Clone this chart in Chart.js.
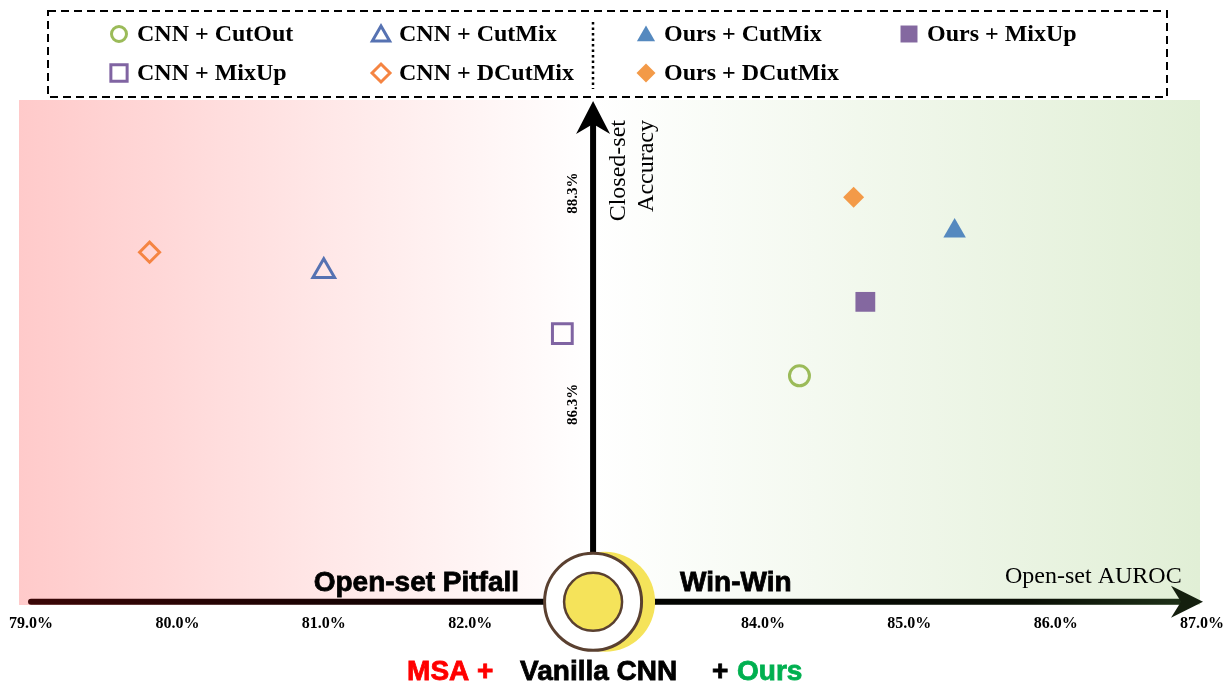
<!DOCTYPE html>
<html>
<head>
<meta charset="utf-8">
<script src="https://cdn.jsdelivr.net/npm/chart.js@4"></script>
<style>
  body { margin: 0; background: #fff; }
  #wrap { width: 1231px; height: 694px; }
</style>
</head>
<body>
<div id="wrap"><canvas id="myChart" width="1231" height="694"></canvas></div>
<script>
// data
const methods = ['CNN + CutOut', 'CNN + CutMix', 'Ours + CutMix', 'Ours + MixUp',
                 'CNN + MixUp', 'CNN + DCutMix', 'Ours + DCutMix'];
const openSetAuroc = [84.25, 81.00, 85.31, 84.70, 82.63, 79.81, 84.62];   // x, %
const closedSetAcc = [86.57, 87.56, 87.94, 87.27, 86.97, 87.74, 88.26];   // y, %
const vanillaAuroc = 82.84;
const vanillaAcc = 84.43;
const xTicks = [79, 80, 81, 82, 83, 84, 85, 86, 87];
const yTicks = [86.3, 88.3];

// marker styles
const markerShapes = ['circle', 'triangle', 'triangle', 'rect', 'rect', 'rectRot', 'rectRot'];
const markerColors = ['#9bbb59', '#5672b2', '#5589bf', '#8468a0', '#8064a2', '#f58442', '#f39a48'];
const markerFilled = [false, false, true, true, false, false, true];
const markerSizes = [10, 12.5, 13, 14, 14, 10, 10.5];
const legendSizes = [7.5, 10, 10.5, 12, 11.5, 9, 9.5];

const serif = '"Liberation Serif", "Times New Roman", serif';
const sans = '"Liberation Sans", Arial, sans-serif';

const datasets = methods.map((name, i) => ({
  label: name,
  data: [{ x: openSetAuroc[i], y: closedSetAcc[i] }],
  pointStyle: markerShapes[i],
  pointRadius: markerSizes[i],
  pointHoverRadius: markerSizes[i],
  pointBorderWidth: markerFilled[i] ? 0 : 3,
  pointBorderColor: markerColors[i],
  pointBackgroundColor: markerFilled[i] ? markerColors[i] : 'rgba(0,0,0,0)'
}));

// pink / green backdrop
const backdrop = {
  id: 'backdrop',
  beforeDraw(chart) {
    const { ctx, chartArea, scales: { x } } = chart;
    const cx = x.getPixelForValue(vanillaAuroc);
    const top = chartArea.top + 2, bottom = chartArea.bottom;
    const left = chartArea.left - 12, right = chartArea.right - 2;
    ctx.save();
    let g = ctx.createLinearGradient(left, 0, cx, 0);
    g.addColorStop(0, '#ffcaca');
    g.addColorStop(0.55, '#ffe8e8');
    g.addColorStop(1, '#ffffff');
    ctx.fillStyle = g;
    ctx.fillRect(left, top, cx - left, bottom - top);
    g = ctx.createLinearGradient(cx, 0, right, 0);
    g.addColorStop(0, '#ffffff');
    g.addColorStop(1, '#e1efd6');
    ctx.fillStyle = g;
    ctx.fillRect(cx, top, right - cx, bottom - top);
    ctx.restore();
  }
};

// axes arrows, tick labels, captions and the vanilla CNN origin
const axesArrows = {
  id: 'axesArrows',
  beforeDatasetsDraw(chart) {
    const { ctx, chartArea, scales: { x, y } } = chart;
    const ox = x.getPixelForValue(vanillaAuroc);
    const oy = y.getPixelForValue(vanillaAcc);
    const xEnd = x.getPixelForValue(87);
    ctx.save();

    // horizontal arrow
    const g = ctx.createLinearGradient(chartArea.left, 0, xEnd, 0);
    g.addColorStop(0, '#3a0606');
    g.addColorStop(0.45, '#000000');
    g.addColorStop(0.85, '#0a0f05');
    g.addColorStop(1, '#20341a');
    ctx.strokeStyle = g;
    ctx.lineWidth = 6;
    ctx.lineCap = 'round';
    ctx.beginPath();
    ctx.moveTo(chartArea.left, oy);
    ctx.lineTo(xEnd - 18, oy);
    ctx.stroke();
    ctx.fillStyle = '#141f0e';
    ctx.beginPath();
    ctx.moveTo(xEnd + 1, oy);
    ctx.lineTo(xEnd - 31, oy - 16);
    ctx.lineTo(xEnd - 21, oy);
    ctx.lineTo(xEnd - 31, oy + 16);
    ctx.closePath();
    ctx.fill();

    // vertical arrow
    const yTop = chartArea.top + 3;
    ctx.strokeStyle = '#000';
    ctx.lineCap = 'butt';
    ctx.beginPath();
    ctx.moveTo(ox, oy);
    ctx.lineTo(ox, yTop + 20);
    ctx.stroke();
    ctx.fillStyle = '#000';
    ctx.beginPath();
    ctx.moveTo(ox, yTop);
    ctx.lineTo(ox - 17, yTop + 33);
    ctx.lineTo(ox, yTop + 23);
    ctx.lineTo(ox + 17, yTop + 33);
    ctx.closePath();
    ctx.fill();

    // x tick labels
    ctx.fillStyle = '#000';
    ctx.font = 'bold 16px ' + serif;
    ctx.textAlign = 'center';
    ctx.textBaseline = 'middle';
    xTicks.forEach(v => ctx.fillText(v.toFixed(1) + '%', x.getPixelForValue(v), chartArea.bottom + 19));

    // y tick labels (rotated)
    ctx.font = 'bold 15px ' + serif;
    yTicks.forEach(v => {
      ctx.save();
      ctx.translate(ox - 20, y.getPixelForValue(v));
      ctx.rotate(-Math.PI / 2);
      ctx.fillText(v.toFixed(1) + '%', 0, 0);
      ctx.restore();
    });

    // axis titles
    ctx.font = '24px ' + serif;
    ctx.textAlign = 'left';
    ctx.textBaseline = 'alphabetic';
    ctx.fillText('Open-set AUROC', 1005, 583);
    ctx.save();
    ctx.translate(ox + 32, 120);
    ctx.rotate(-Math.PI / 2);
    ctx.textAlign = 'right';
    ctx.fillText('Closed-set', 0, 0);
    ctx.fillText('Accuracy', 0, 28);
    ctx.restore();

    // region captions
    ctx.font = 'bold 28px ' + sans;
    ctx.lineWidth = 0.8;
    ctx.strokeStyle = '#000';
    ctx.textAlign = 'right';
    ctx.fillText('Open-set Pitfall', ox - 74, oy - 11);
    ctx.strokeText('Open-set Pitfall', ox - 74, oy - 11);
    ctx.textAlign = 'left';
    ctx.fillText('Win-Win', ox + 87, oy - 11);
    ctx.strokeText('Win-Win', ox + 87, oy - 11);

    // vanilla CNN origin marker
    ctx.fillStyle = '#f5e35a';
    ctx.beginPath();
    ctx.arc(ox + 12, oy, 50, 0, Math.PI * 2);
    ctx.fill();
    ctx.fillStyle = '#fff';
    ctx.strokeStyle = '#5a4030';
    ctx.lineWidth = 3;
    ctx.beginPath();
    ctx.arc(ox, oy, 48.5, 0, Math.PI * 2);
    ctx.fill();
    ctx.stroke();
    ctx.fillStyle = '#f5e35a';
    ctx.lineWidth = 2.5;
    ctx.beginPath();
    ctx.arc(ox, oy, 29, 0, Math.PI * 2);
    ctx.fill();
    ctx.stroke();

    // bottom caption
    ctx.font = 'bold 28px ' + sans;
    ctx.lineWidth = 0.8;
    const parts = [['MSA +', '#ff0000', ox - 186], ['Vanilla CNN', '#000000', ox - 73],
                   ['+', '#000000', ox + 119], ['Ours', '#00b050', ox + 144]];
    parts.forEach(([t, c, px]) => {
      ctx.fillStyle = c;
      ctx.strokeStyle = c;
      ctx.fillText(t, px, 680);
      ctx.strokeText(t, px, 680);
    });
    ctx.restore();
  }
};

// dashed legend box at the top
const boxLegend = {
  id: 'boxLegend',
  afterDraw(chart) {
    const { ctx } = chart;
    const cols = [119, 381, 646, 909];
    const rows = [34, 73];
    ctx.save();
    ctx.strokeStyle = '#000';
    ctx.lineWidth = 2;
    ctx.setLineDash([8, 5]);
    ctx.strokeRect(48, 11, 1119, 86);
    ctx.setLineDash([2.5, 3]);
    ctx.lineWidth = 2.5;
    ctx.beginPath();
    ctx.moveTo(593, 22);
    ctx.lineTo(593, 89);
    ctx.stroke();
    ctx.setLineDash([]);
    chart.data.datasets.forEach((ds, i) => {
      const px = cols[i % 4], py = rows[Math.floor(i / 4)];
      ctx.fillStyle = ds.pointBackgroundColor;
      ctx.strokeStyle = ds.pointBorderColor;
      ctx.lineWidth = markerFilled[i] ? 0 : 3;
      const my = ds.pointStyle === 'triangle' ? py + 2 : py;
      Chart.helpers.drawPoint(ctx, {
        pointStyle: ds.pointStyle, radius: legendSizes[i], rotation: 0,
        borderWidth: markerFilled[i] ? 0 : 3
      }, px, my);
      ctx.fillStyle = '#000';
      ctx.font = 'bold 24px ' + serif;
      ctx.textAlign = 'left';
      ctx.textBaseline = 'middle';
      ctx.fillText(ds.label, px + 18, py + 1);
    });
    ctx.restore();
  }
};

new Chart(document.getElementById('myChart'), {
  type: 'scatter',
  data: { datasets: datasets },
  options: {
    responsive: false,
    animation: false,
    devicePixelRatio: 1,
    layout: { padding: { left: 31, right: 29, top: 98, bottom: 89 } },
    scales: {
      x: { type: 'linear', min: 79, max: 87, display: false },
      y: { type: 'linear', min: 84.4, max: 89.2, display: false }
    },
    plugins: { legend: { display: false }, tooltip: { enabled: false } }
  },
  plugins: [backdrop, axesArrows, boxLegend]
});
</script>
</body>
</html>
